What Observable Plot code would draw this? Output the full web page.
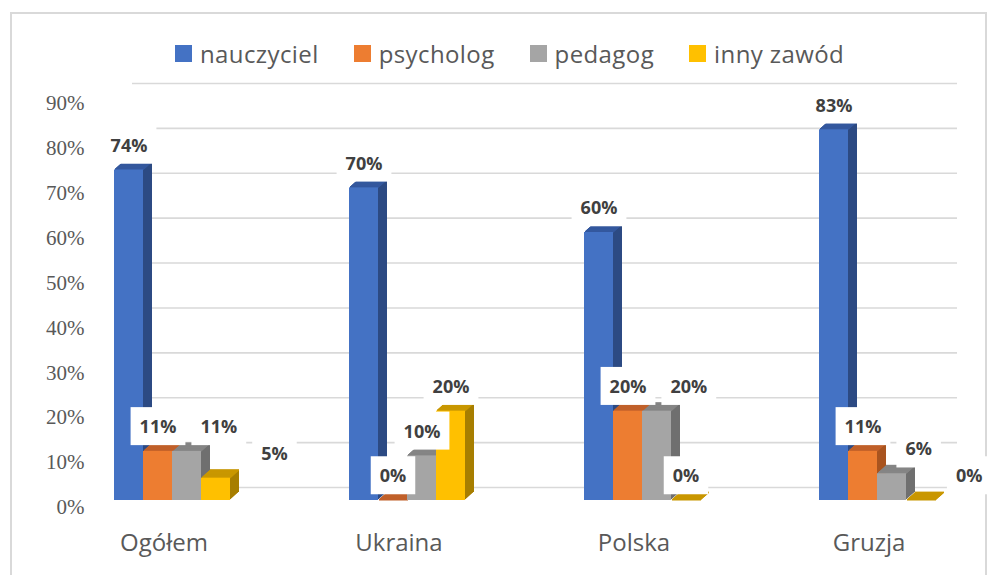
<!DOCTYPE html>
<html><head><meta charset="utf-8">
<script src="https://cdn.jsdelivr.net/npm/d3@7"></script>
<script src="https://cdn.jsdelivr.net/npm/@observablehq/plot@0.6"></script>
<style>
body{margin:0;background:#fff;}
#wrap{position:relative;width:992px;height:575px;overflow:hidden;background:#fff;}
#frame{position:absolute;left:10px;top:12px;width:977px;height:620px;border:2px solid #d9d9d9;box-sizing:border-box;}
#legend{position:absolute;top:37px;left:175px;display:flex;align-items:center;font-family:"Open Sans";font-size:24px;letter-spacing:0.4px;color:#595959;white-space:nowrap;z-index:5;}
#legend .item{display:flex;align-items:center;margin-right:35px;}
#legend .sw{width:17px;height:17px;margin-right:8px;}
.layer{position:absolute;left:0;top:0;}
</style></head><body>
<div id="wrap"><div id="frame"></div><div id="grid" class="layer"></div><div id="bars" class="layer"></div><div id="legend"></div></div>
<script>
const categories = ["Ogółem", "Ukraina", "Polska", "Gruzja"];
const series = ["nauczyciel", "psycholog", "pedagog", "inny zawód"];
const nauczyciel = [74, 70, 60, 83];
const psycholog = [11, 0, 20, 11];
const pedagog = [11, 10, 20, 6];
const innyZawod = [5, 20, 0, 0];
const yTicks = [0, 10, 20, 30, 40, 50, 60, 70, 80, 90];
const colors = ["#4472C4", "#ED7D31", "#A5A5A5", "#FFC000"];
const topColors = ["#34589E", "#C0602A", "#858585", "#C99700"];
const sideColors = ["#2C4A83", "#A9541F", "#6F6F6F", "#A77E00"];

const seriesValues = [nauczyciel, psycholog, pedagog, innyZawod];
const rows = categories.flatMap((c, i) => series.map((s, j) => ({category: c, series: s, si: j, value: seriesValues[j][i]})));

// legend
const legend = document.getElementById("legend");
series.forEach((s, j) => {
  const it = document.createElement("div"); it.className = "item";
  const sw = document.createElement("div"); sw.className = "sw"; sw.style.background = colors[j];
  const tx = document.createElement("span"); tx.textContent = s;
  it.append(sw, tx); legend.append(it);
});

// back wall grid + y labels
const grid = Plot.plot({
  width: 992, height: 575,
  marginLeft: 132, marginRight: 35, marginTop: 83, marginBottom: 88,
  style: {background: "transparent", fontFamily: "Liberation Serif"},
  y: {domain: [0, 90], axis: null},
  marks: [
    Plot.ruleY(yTicks, {stroke: "#D9D9D9", strokeWidth: 1.6}),
    Plot.axisY({ticks: yTicks, tickSize: 0, tickPadding: 48, dy: 20, tickFormat: d => d + "%", fontSize: 21, fill: "#595959", label: null})
  ]
});
document.getElementById("grid").append(grid);

// 3D bars
const depth = 9, rise = 8;
const ks = d3.range(1, depth + 1);
const chan = {fx: "category", x: "series", y: "value"};
const bars = Plot.plot({
  width: 992, height: 575,
  marginLeft: 65, marginRight: 8, marginTop: 98, marginBottom: 75,
  style: {background: "transparent", fontFamily: "Open Sans"},
  fx: {domain: categories, paddingInner: 0.502, paddingOuter: 0.2},
  x: {domain: series, padding: 0, axis: null},
  y: {domain: [0, 90], axis: null},
  color: {type: "identity"},
  marks: [
    ...ks.map(k => Plot.barY(rows, {...chan, fill: d => sideColors[d.si], dx: k, dy: -k * rise / depth})),
    ...ks.map(k => Plot.tickY(rows, {...chan, stroke: d => topColors[d.si], strokeWidth: 1.8, dx: k, dy: -k * rise / depth})),
    Plot.barY(rows, {...chan, fill: d => colors[d.si]}),
    Plot.axisFx({anchor: "bottom", tickSize: 0, tickPadding: 33, dx: -8, fontSize: 24, fill: "#595959", label: null}),
    Plot.text(rows, {...chan, text: d => d.value + "%", dy: -24, fontSize: 18, fontWeight: "bold", fill: "#404040", ariaDescription: "values"})
  ]
});
document.getElementById("bars").append(bars);

// label boxes with simple collision avoidance (per facet)
const padX = 9, padY = 7, gap = 6;
const labelTexts = Array.from(bars.querySelectorAll('g[aria-description="values"] text'));
const byFacet = d3.group(labelTexts, t => {
  const r = t.getBoundingClientRect();
  return Math.floor((r.left + r.right) / 2 / 235);
});
for (const texts of byFacet.values()) {
  const placed = [];
  texts.forEach(t => {
    const r = t.getBoundingClientRect();
    let box = {l: r.left - padX, r: r.right + padX, t: r.top - padY, b: r.bottom + padY};
    let shift = 0, moved = true, guard = 0;
    while (moved && guard++ < 10) {
      moved = false;
      for (const p of placed) {
        if (box.l < p.r && box.r > p.l && box.t < p.b && box.b > p.t) {
          const s = p.r + gap - box.l;
          shift += s; box.l += s; box.r += s; moved = true;
        }
      }
    }
    placed.push(box);
    const tr = t.getAttribute("transform") || "";
    const ntr = (tr + ` translate(${shift},0)`).trim();
    t.setAttribute("transform", ntr);
  });
}
labelTexts.forEach(t => {
  const bb = t.getBBox();
  const rect = document.createElementNS("http://www.w3.org/2000/svg", "rect");
  rect.setAttribute("x", bb.x - padX); rect.setAttribute("y", bb.y - padY);
  rect.setAttribute("width", bb.width + 2 * padX); rect.setAttribute("height", bb.height + 2 * padY);
  rect.setAttribute("fill", "#fff");
  rect.setAttribute("transform", t.getAttribute("transform") || "");
  const parent = t.parentNode;
  parent.insertBefore(rect, parent.querySelector("text"));
});
</script>
</body></html>
